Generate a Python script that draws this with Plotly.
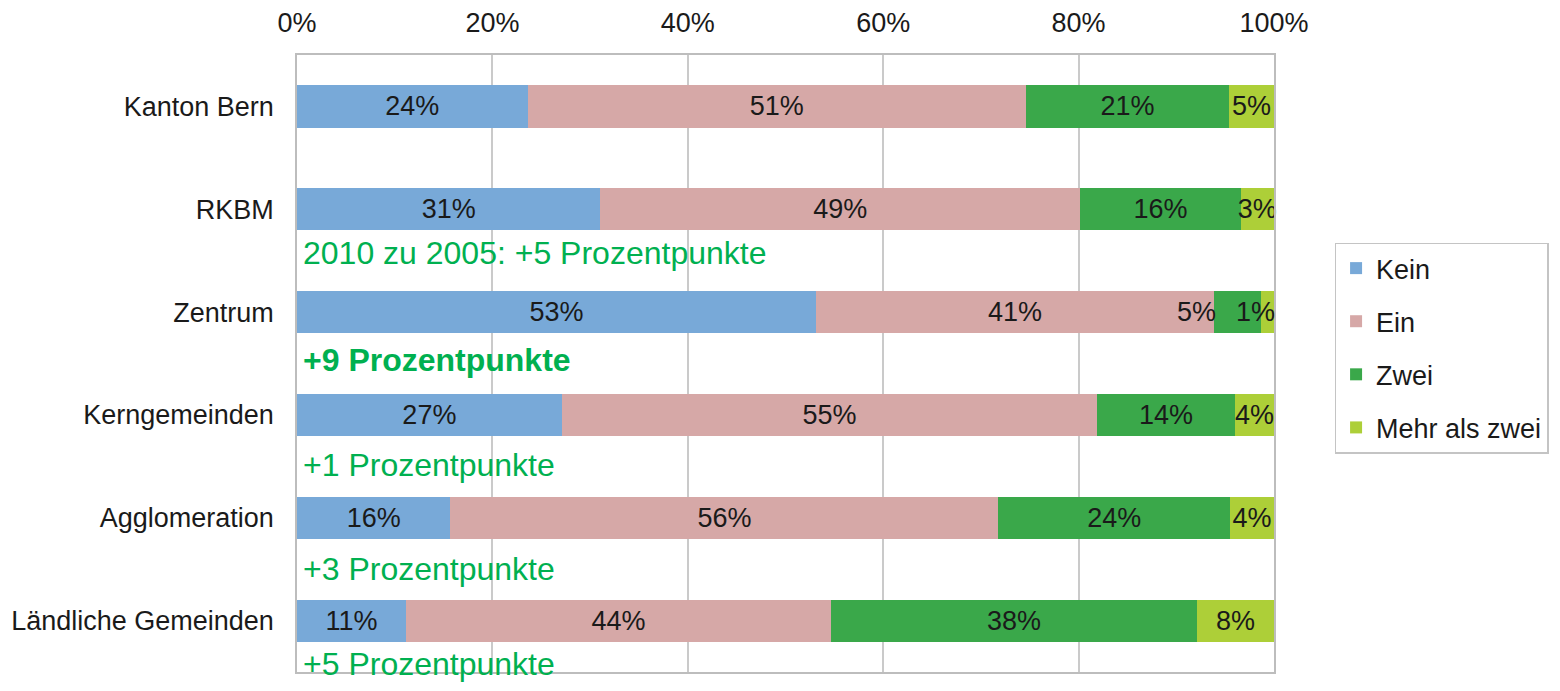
import plotly.graph_objects as go

categories = ["Kanton Bern", "RKBM", "Zentrum", "Kerngemeinden", "Agglomeration", "Ländliche Gemeinden"]
series_names = ["Kein", "Ein", "Zwei", "Mehr als zwei"]
kein = [23.6, 31.0, 53.1, 27.1, 15.7, 11.2]
ein = [51.0, 49.0, 40.8, 54.8, 56.1, 43.6]
zwei = [20.8, 16.4, 4.8, 14.1, 23.7, 37.6]
mehr = [4.6, 3.4, 1.3, 4.0, 4.5, 7.9]
colors = ["#78A9D8", "#D6A8A7", "#3AA84A", "#ADCF38"]
x_ticks = [0, 20, 40, 60, 80, 100]
x_tick_labels = ["0%", "20%", "40%", "60%", "80%", "100%"]

change_notes = ["2010 zu 2005: +5 Prozentpunkte", "+9 Prozentpunkte", "+1 Prozentpunkte",
                "+3 Prozentpunkte", "+5 Prozentpunkte"]
note_rows = [1, 2, 3, 4, 5]
note_offsets = [0.43, 0.47, 0.49, 0.50, 0.42]
note_bold = [False, True, False, False, False]

# row whose two narrow right-hand segments get their labels set right-aligned (as in the source)
crowded_row = 2

FONT = "Liberation Sans, Arial, sans-serif"
TXT = "#1a1a1a"
GREEN = "#00B050"

series = [kein, ein, zwei, mehr]
totals = [sum(s[i] for s in series) for i in range(len(categories))]
n_cat = len(categories)

fig = go.Figure()
for k, (name, vals) in enumerate(zip(series_names, series)):
    labels = [f"{round(v)}%" for v in vals]
    if k >= 2:
        labels[crowded_row] = ""
    fig.add_trace(go.Bar(
        y=categories, x=vals, name=name, orientation="h",
        marker=dict(color=colors[k], line=dict(width=0)),
        text=labels,
        textposition="inside", insidetextanchor="middle", textangle=0,
        textfont=dict(family=FONT, size=27, color=TXT),
        legendgroup=name, cliponaxis=False,
    ))

# labels of the crowded row
r = crowded_row
end_ein = (kein[r] + ein[r]) / totals[r] * 100
end_all = 100.0
for val, xpos, shift in [(zwei[r], end_ein, 3), (mehr[r], end_all, 2)]:
    fig.add_annotation(
        x=xpos, y=categories[r], xref="x", yref="y", xshift=shift,
        text=f"{round(val)}%", showarrow=False, xanchor="right", yanchor="middle",
        font=dict(family=FONT, size=27, color=TXT), borderpad=0,
    )

for txt, row, off, bold in zip(change_notes, note_rows, note_offsets, note_bold):
    fig.add_annotation(
        x=0.4, y=1 - (row + off + 0.5) / n_cat, xref="x", yref="paper",
        text=f"<b>{txt}</b>" if bold else txt,
        showarrow=False, xanchor="left", yanchor="middle",
        font=dict(family=FONT, size=32, color=GREEN),
    )

# page body has an 8px margin: figure is 1544x675 placed at (8, 8)
fig.update_layout(
    width=1544, height=675,
    margin=dict(l=289, r=278, t=47, b=11, autoexpand=False),
    barmode="stack", barnorm="percent", bargap=0.59,
    plot_bgcolor="white", paper_bgcolor="white",
    font=dict(family=FONT, size=27, color=TXT),
    uniformtext=dict(minsize=27, mode="show"),
    legend=dict(
        x=1.062, y=0.696, xanchor="left", yanchor="top",
        bordercolor="#C4C4C4", borderwidth=1.5,
        font=dict(family=FONT, size=27, color=TXT),
        traceorder="grouped", tracegroupgap=15,
        itemwidth=30,
    ),
    showlegend=True,
)
fig.update_xaxes(
    side="top", range=[0, 100], tickvals=x_ticks, ticktext=x_tick_labels,
    showgrid=True, gridcolor="#CACACA", gridwidth=1.5,
    showline=True, linecolor="#BDBDBD", linewidth=1.5, mirror=True,
    ticks="", ticklabelstandoff=10, zeroline=False, automargin=False,
    tickfont=dict(family=FONT, size=27, color=TXT),
)
fig.update_yaxes(
    range=[n_cat - 0.5, -0.5], showgrid=False,
    showline=True, linecolor="#BDBDBD", linewidth=1.5, mirror=True,
    ticks="", ticklabelstandoff=16, automargin=False,
    tickfont=dict(family=FONT, size=27, color=TXT),
)

fig.write_html("out.html")
